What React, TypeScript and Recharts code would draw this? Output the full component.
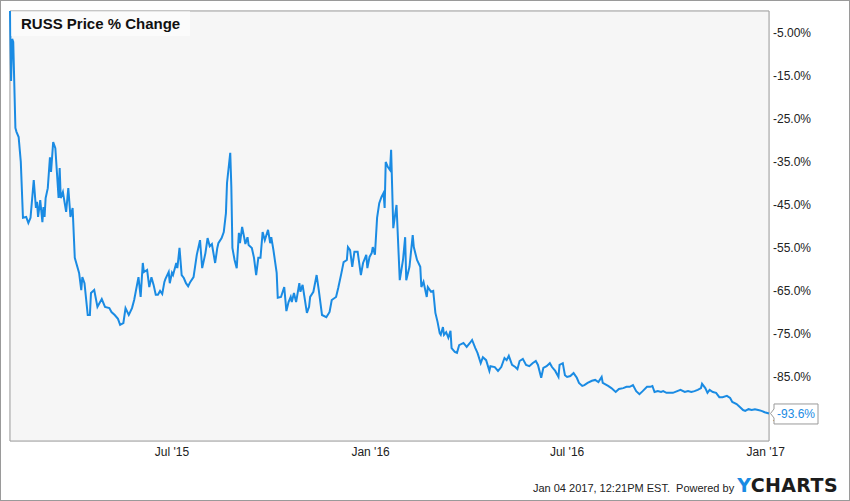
import React from "react";
import {
  LineChart,
  Line,
  XAxis,
  YAxis,
  CartesianGrid,
  ReferenceArea,
  LabelList,
} from "recharts";

// x = trading days counted from Feb 1 2015, y = price % change
const days = [
  0, 1, 2, 3, 5, 6, 8, 10, 12, 15, 17, 19, 22, 24, 25, 26, 28, 30, 31, 32,
  33, 35, 37, 38, 40, 42, 45, 46, 47, 49, 52, 54, 56, 58, 60, 64, 66, 67, 69, 72,
  74, 75, 78, 81, 85, 88, 92, 94, 97, 100, 102, 105, 107, 110, 113, 115, 119, 121, 123, 124,
  127, 129, 131, 133, 135, 137, 139, 141, 143, 144, 147, 148, 150, 151, 154, 155, 157, 159, 161, 163,
  165, 167, 170, 173, 176, 178, 181, 183, 185, 187, 190, 192, 193, 196, 198, 200, 201, 204, 205, 206,
  208, 210, 212, 213, 215, 217, 218, 220, 221, 224, 226, 228, 230, 232, 234, 236, 239, 241, 242, 244,
  247, 248, 251, 254, 256, 258, 260, 261, 263, 265, 268, 269, 271, 272, 275, 277, 278, 281, 284, 286,
  289, 293, 296, 298, 302, 304, 307, 309, 312, 313, 315, 317, 319, 322, 325, 327, 330, 331, 333, 335,
  336, 338, 340, 342, 344, 346, 347, 348, 350, 352, 353, 355, 358, 361, 364, 366, 367, 370, 373, 374,
  377, 380, 381, 383, 386, 387, 390, 392, 394, 396, 398, 399, 401, 402, 404, 406, 408, 409, 412, 414,
  416, 420, 423, 426, 428, 431, 433, 436, 438, 441, 444, 445, 449, 452, 455, 458, 460, 462, 465, 468,
  470, 472, 475, 478, 481, 484, 487, 489, 492, 494, 497, 500, 502, 505, 508, 509, 512, 514, 516, 519,
  522, 525, 527, 530, 532, 535, 539, 542, 545, 548, 549, 554, 557, 561, 564, 568, 571, 574, 577, 580,
  583, 586, 590, 593, 595, 597, 600, 603, 605, 608, 611, 614, 618, 621, 625, 628, 631, 634, 637, 640,
  641, 644, 646, 648, 651, 654, 657, 660, 664, 667, 669, 673, 676, 679, 681, 684, 687, 690, 693, 696,
  699, 703,
];

const pctChange = [
  0, -16.3, -6.5, -7.2, -27.2, -28.1, -29.3, -35.1, -48.1, -47.9, -49.3, -48.1, -39.3, -45.8, -44.4, -47.9, -44.0, -49.1, -45.6, -47.9,
  -43.5, -41.2, -34.0, -37.4, -30.5, -31.9, -43.5, -36.5, -43.5, -42.1, -46.7, -41.2, -47.9, -45.8, -57.4, -60.9, -64.9, -61.9, -63.3, -70.7,
  -70.7, -65.6, -64.9, -68.8, -67.0, -68.8, -69.1, -70.0, -70.7, -71.6, -73.0, -72.6, -69.1, -70.7, -69.1, -67.2, -61.9, -66.5, -58.6, -60.7,
  -60.2, -64.2, -61.9, -63.7, -66.0, -66.0, -65.1, -65.8, -63.0, -62.3, -60.7, -63.3, -60.9, -61.4, -58.6, -59.8, -55.1, -61.4, -62.1, -63.3,
  -64.0, -63.0, -61.9, -56.7, -53.3, -59.8, -56.3, -52.8, -54.7, -54.2, -58.6, -55.1, -54.0, -52.8, -51.4, -47.0, -40.0, -33.0, -40.9, -55.1,
  -57.9, -59.8, -51.6, -54.0, -50.2, -52.8, -54.2, -52.6, -54.4, -55.1, -57.4, -61.4, -57.4, -57.4, -51.4, -53.3, -50.9, -54.0, -52.6, -55.6,
  -60.9, -66.7, -66.5, -64.2, -69.8, -67.7, -66.5, -67.7, -65.6, -67.7, -63.3, -65.3, -63.7, -65.3, -70.2, -68.8, -66.5, -65.3, -61.4, -64.9,
  -70.7, -71.2, -70.0, -67.2, -66.5, -64.4, -60.9, -58.4, -57.9, -54.9, -55.6, -59.5, -56.0, -56.0, -61.4, -58.6, -56.7, -59.8, -57.2, -56.3,
  -54.9, -56.7, -48.1, -44.7, -43.3, -42.3, -45.8, -35.1, -36.3, -37.0, -32.3, -50.5, -45.1, -62.6, -57.9, -52.6, -62.6, -59.5, -52.1, -54.9,
  -57.9, -59.5, -64.2, -63.0, -66.5, -64.2, -65.3, -65.1, -70.2, -72.3, -74.9, -75.3, -73.5, -75.3, -74.7, -76.0, -74.4, -78.4, -79.3, -79.5,
  -77.7, -77.2, -78.1, -77.2, -76.5, -78.4, -79.5, -81.9, -80.5, -81.2, -83.7, -82.6, -82.8, -83.7, -82.8, -80.7, -81.2, -80.2, -82.3, -82.8,
  -83.3, -81.4, -80.9, -82.3, -82.6, -81.9, -81.4, -82.3, -85.3, -83.0, -82.6, -81.9, -82.8, -83.7, -85.1, -82.3, -81.9, -84.7, -85.1, -84.9,
  -84.2, -85.3, -86.5, -87.2, -87.0, -86.5, -86.0, -85.8, -86.3, -85.1, -86.5, -87.2, -87.7, -88.6, -87.9, -87.7, -87.4, -87.4, -87.0, -88.4,
  -89.1, -88.4, -87.4, -87.4, -87.2, -88.6, -88.4, -88.6, -88.4, -88.8, -88.8, -88.8, -88.4, -88.1, -88.6, -88.4, -88.6, -88.4, -88.1, -87.7,
  -86.7, -87.7, -88.8, -88.1, -88.6, -88.8, -89.8, -89.8, -89.5, -90.0, -90.9, -91.4, -92.1, -92.8, -93.0, -92.6, -92.8, -92.6, -92.8, -93.0,
  -93.3, -93.6,
];

const xTickDays = [150, 334, 516, 700];
const xTickLabels = ["Jul '15", "Jan '16", "Jul '16", "Jan '17"];
const yTicks = [-95, -85, -75, -65, -55, -45, -35, -25, -15, -5];

const title = "RUSS Price % Change";
const footerText = "Jan 04 2017, 12:21PM EST.  Powered by";

const BLUE = "#1a8be3";
const FONT = "'Liberation Sans', Arial, sans-serif";

const data = days.map((d, i) => ({ day: d, value: pctChange[i] }));

const fmtY = (v: number) => (v === -5 ? "-5.00%" : `${v.toFixed(1)}%`);
const fmtX = (d: number) => xTickLabels[xTickDays.indexOf(d)] ?? "";

// value flag drawn next to the last point
const renderLastLabel = (props: any) => {
  const { x, y, index, value } = props;
  if (index !== data.length - 1) return null;
  const bx = x + 5;
  return (
    <g>
      <path
        d={`M${x + 1.5},${y} L${bx},${y - 4.5} L${bx},${y - 9.5} L${bx + 44},${y - 9.5} L${bx + 44},${y + 10.5} L${bx},${y + 10.5} L${bx},${y + 4.5} Z`}
        fill="#ffffff"
        stroke="#9a9a9a"
        strokeWidth={1}
      />
      <text x={bx + 3} y={y + 5} fill={BLUE} fontSize={12} fontFamily={FONT}>
        {`${Number(value).toFixed(1)}%`}
      </text>
    </g>
  );
};

export default function App() {
  return (
    <div
      style={{
        position: "relative",
        width: 850,
        height: 501,
        background: "#ffffff",
        fontFamily: FONT,
      }}
    >
      <style>{"body{margin:0}"}</style>
      <LineChart
        width={850}
        height={501}
        data={data}
        margin={{ top: 11, right: 0, bottom: 0, left: 10 }}
      >
        <ReferenceArea
          x1={0}
          x2={703}
          y1={-100}
          y2={0}
          fill="#f6f6f6"
          fillOpacity={1}
          stroke="#a0a0a0"
          strokeWidth={1}
          ifOverflow="visible"
        />
        <CartesianGrid stroke="#d6d6d6" strokeWidth={1} />
        <XAxis
          dataKey="day"
          type="number"
          domain={[0, 703]}
          ticks={xTickDays}
          tickFormatter={fmtX}
          height={60}
          tickLine={false}
          axisLine={false}
          tickSize={0}
          tickMargin={6}
          tick={{ fill: "#222", fontSize: 12, fontFamily: FONT }}
        />
        <YAxis
          orientation="right"
          type="number"
          domain={[-100, 0]}
          ticks={yTicks}
          tickFormatter={fmtY}
          width={81}
          tickLine={false}
          axisLine={false}
          tickSize={0}
          tickMargin={4}
          tick={{ fill: "#222", fontSize: 12, fontFamily: FONT, textAnchor: "start" }}
        />
        <Line
          type="linear"
          dataKey="value"
          stroke={BLUE}
          strokeWidth={2}
          dot={false}
          isAnimationActive={false}
        >
          <LabelList dataKey="value" content={renderLastLabel} />
        </Line>
      </LineChart>

      <div
        style={{
          position: "absolute",
          left: 11,
          top: 11,
          width: 179,
          height: 25,
          background: "rgba(255,255,255,0.55)",
          fontWeight: 700,
          fontSize: 15,
          lineHeight: "25px",
          paddingLeft: 10,
          boxSizing: "border-box",
          color: "#111",
        }}
      >
        {title}
      </div>

      <div
        style={{
          position: "absolute",
          right: 12,
          top: 474,
          display: "flex",
          alignItems: "baseline",
          whiteSpace: "pre",
        }}
      >
        <span style={{ fontSize: 11, color: "#222", marginRight: 3 }}>{footerText}</span>
        <span
          style={{
            fontFamily: "'DejaVu Sans', sans-serif",
            fontWeight: 900,
            fontSize: 19,
            letterSpacing: 0.4,
          }}
        >
          <span style={{ color: BLUE }}>Y</span>
          <span style={{ color: "#1c1c1c" }}>CHARTS</span>
        </span>
      </div>

      <div
        style={{
          position: "absolute",
          inset: 0,
          border: "1px solid #9a9a9a",
          pointerEvents: "none",
        }}
      />
    </div>
  );
}
